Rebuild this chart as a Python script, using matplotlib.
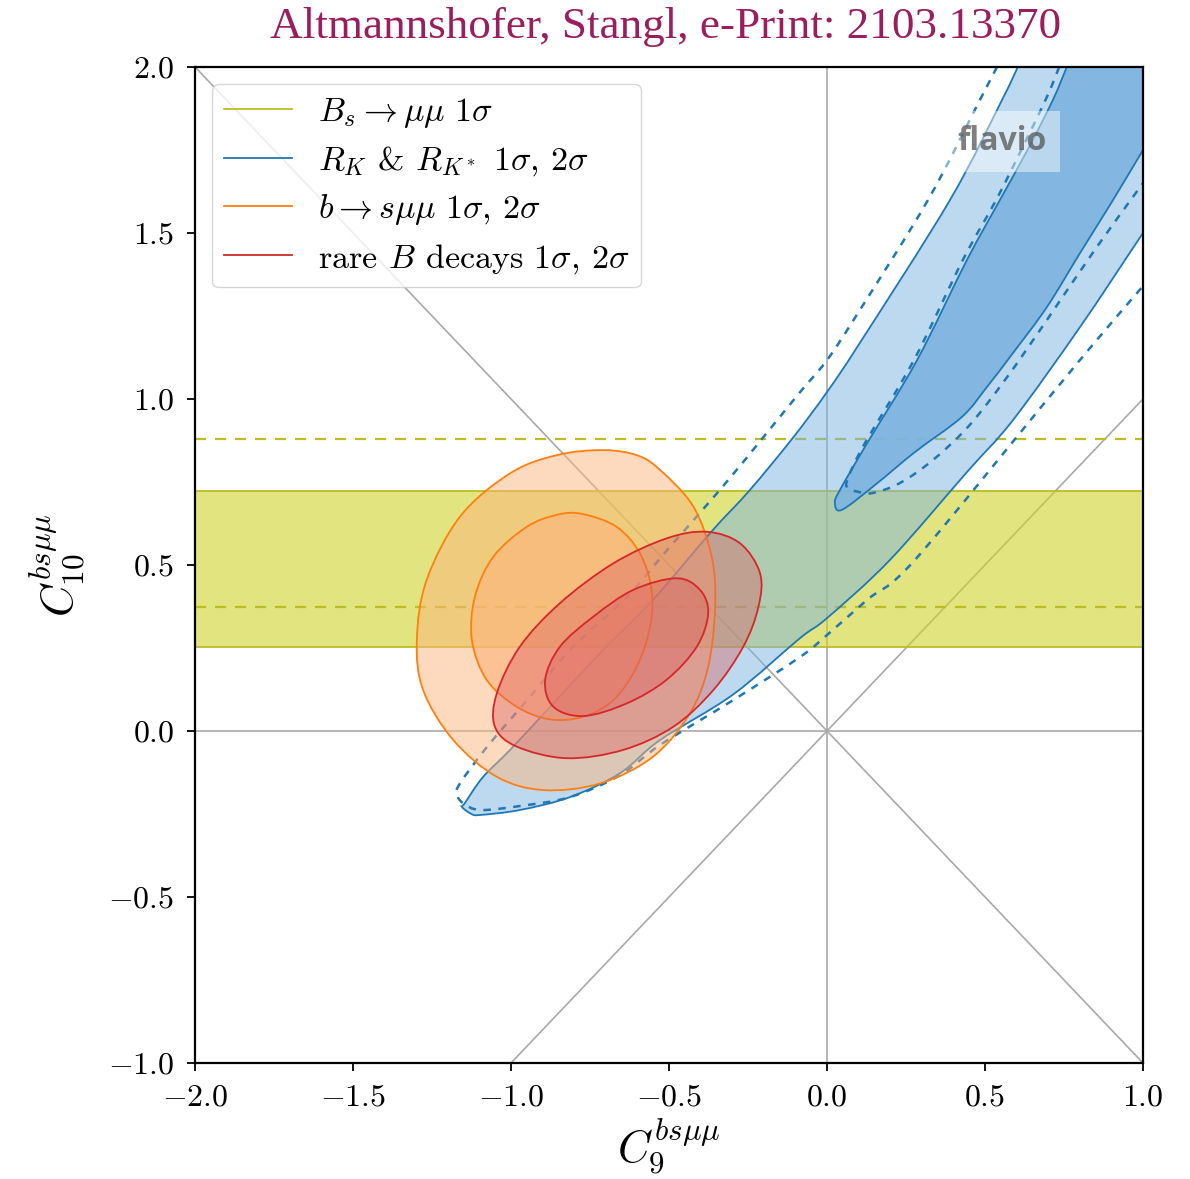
import numpy as np
import matplotlib.pyplot as plt
from matplotlib.path import Path
from matplotlib.patches import PathPatch

plt.rcParams['font.family'] = 'serif'
plt.rcParams['font.serif'] = ['cmr10']
plt.rcParams['mathtext.fontset'] = 'cm'
plt.rcParams['axes.formatter.use_mathtext'] = True

# B_s -> mu mu : 1 sigma band and dashed lines (C10)
bs_band = [0.253, 0.723]
bs_dashed = [0.373, 0.880]

# R_K & R_K* contours (C9, C10); corners close them along the axes
rk_2s_c9 = [0.604, 0.554, 0.389, 0.104, 0.0, -0.108, -0.244, -0.370, -0.551, -0.718, -0.877,
            -1.003, -1.089, -1.146, -1.155, -1.125, -1.098, -0.972, -0.813, -0.655, -0.528,
            -0.297, -0.085, 0.0, 0.199, 0.443, 0.589, 0.801, 1.0]
rk_2s_c10 = [2.0, 1.901, 1.599, 1.169, 1.021, 0.883, 0.726, 0.596, 0.395, 0.235, 0.072,
             -0.057, -0.139, -0.217, -0.229, -0.250, -0.253, -0.238, -0.199, -0.127, -0.027,
             0.110, 0.280, 0.340, 0.515, 0.780, 0.937, 1.217, 1.5]
rk_2s_corner = [(1.0, 2.0)]

rk_1s_c9 = [0.759, 0.715, 0.640, 0.547, 0.443, 0.285, 0.127, 0.041, 0.025, 0.047, 0.152,
            0.278, 0.427, 0.506, 0.589, 0.696, 0.801, 0.905, 1.0]
rk_1s_c10 = [2.0, 1.901, 1.760, 1.599, 1.419, 1.117, 0.867, 0.726, 0.687, 0.666, 0.741,
             0.840, 0.946, 1.036, 1.139, 1.277, 1.440, 1.599, 1.75]
rk_1s_corner = [(1.0, 2.0)]

# dashed R_K contours
rkd_1s_c9 = [0.735, 0.696, 0.620, 0.535, 0.430, 0.275, 0.120, 0.070, 0.063, 0.100, 0.146,
             0.231, 0.335, 0.450, 0.570, 0.696, 0.854, 1.0]
rkd_1s_c10 = [2.0, 1.910, 1.760, 1.599, 1.419, 1.117, 0.867, 0.770, 0.735, 0.720, 0.717,
              0.747, 0.816, 0.920, 1.066, 1.238, 1.458, 1.65]

rkd_2s_c9 = [0.538, 0.484, 0.320, 0.094, 0.0, -0.085, -0.203, -0.339, -0.506, -0.633, -0.804,
             -0.949, -1.076, -1.161, -1.171, -1.152, -1.098, -0.972, -0.813, -0.655, -0.528,
             -0.297, -0.085, 0.0, 0.127, 0.278, 0.696, 0.854, 1.0]
rkd_2s_c10 = [2.0, 1.901, 1.600, 1.253, 1.117, 1.021, 0.883, 0.726, 0.545, 0.404, 0.253,
              0.093, -0.048, -0.157, -0.190, -0.217, -0.238, -0.226, -0.199, -0.133, -0.042,
              0.093, 0.223, 0.289, 0.395, 0.515, 0.997, 1.178, 1.34]

# b -> s mu mu contours
bsmm_2s_c9 = [-0.708, -0.600, -0.528, -0.423, -0.365, -0.354, -0.376, -0.434, -0.550, -0.718,
              -0.898, -1.045, -1.183, -1.278, -1.298, -1.267, -1.161, -1.003, -0.855]
bsmm_2s_c10 = [0.846, 0.830, 0.786, 0.676, 0.525, 0.374, 0.194, 0.053, -0.077, -0.158,
               -0.178, -0.138, -0.027, 0.123, 0.274, 0.455, 0.646, 0.776, 0.831]
bsmm_1s_c9 = [-0.776, -0.666, -0.592, -0.555, -0.560, -0.602, -0.676, -0.771, -0.877, -0.982,
              -1.077, -1.124, -1.114, -1.056, -0.950, -0.855]
bsmm_1s_c10 = [0.654, 0.615, 0.535, 0.425, 0.314, 0.194, 0.093, 0.043, 0.035, 0.073,
               0.154, 0.274, 0.405, 0.525, 0.615, 0.651]

# rare B decays contours
rare_2s_c9 = [-0.381, -0.275, -0.212, -0.217, -0.265, -0.360, -0.486, -0.645, -0.824, -0.982,
              -1.051, -1.045, -0.972, -0.845, -0.676, -0.508]
rare_2s_c10 = [0.600, 0.565, 0.475, 0.374, 0.254, 0.123, 0.013, -0.057, -0.082, -0.047,
               0.013, 0.113, 0.254, 0.385, 0.505, 0.580]
rare_1s_c9 = [-0.476, -0.402, -0.376, -0.412, -0.508, -0.634, -0.771, -0.866, -0.892, -0.845,
              -0.740, -0.613]
rare_1s_c10 = [0.460, 0.425, 0.355, 0.254, 0.154, 0.083, 0.045, 0.073, 0.154, 0.254,
               0.344, 0.425]

labels = [r'$B_s \to \mu\mu\ 1\sigma$',
          r'$R_K$ & $R_{K^*}$ $1\sigma$, $2\sigma$',
          r'$b \to s\mu\mu\ 1\sigma$, $2\sigma$',
          r'rare $B$ decays $1\sigma$, $2\sigma$']

# line colours and (lighter) fill colours
c_bs, c_rk, c_bsmm, c_rare = '#bcbd22', '#1f77b4', '#ff7f0e', '#d62728'
f_bs, f_rk, f_bsmm, f_rare = '#d0d22c', '#7db4e0', '#fcb47d', '#dc6060'


def smooth_path(x, y, closed=False, corners=()):
    # Catmull-Rom through the read vertices, drawn as cubic Bezier segments
    p = np.column_stack([x, y])
    n = len(p)
    if closed:
        t = (np.roll(p, -1, axis=0) - np.roll(p, 1, axis=0)) / 2
        segs = range(n)
    else:
        t = np.empty_like(p)
        t[1:-1] = (p[2:] - p[:-2]) / 2
        t[0] = p[1] - p[0]
        t[-1] = p[-1] - p[-2]
        segs = range(n - 1)
    verts, codes = [p[0]], [Path.MOVETO]
    for i in segs:
        j = (i + 1) % n
        verts += [p[i] + t[i] / 3, p[j] - t[j] / 3, p[j]]
        codes += [Path.CURVE4] * 3
    for c in corners:
        verts.append(c)
        codes.append(Path.LINETO)
    if closed or corners:
        verts.append(p[0])
        codes.append(Path.CLOSEPOLY)
    return Path(verts, codes)


fig = plt.figure(figsize=(11.9, 11.79), dpi=100)
ax = fig.add_axes([0.1639, 0.0984, 0.7966, 0.8448])

# reference lines
ax.axline((0, 0), slope=1, color='darkgray', lw=1.2, zorder=0.5)
ax.axline((0, 0), slope=-1, color='darkgray', lw=1.2, zorder=0.5)
ax.axvline(0, color='darkgray', lw=1.2, zorder=0.5)
ax.axhline(0, color='darkgray', lw=1.2, zorder=0.5)

# Bs -> mumu
ax.axhspan(bs_band[0], bs_band[1], color=f_bs, alpha=0.6, lw=0, zorder=1)
for v in bs_band:
    ax.axhline(v, color=c_bs, lw=1.3, zorder=1.1)
for v in bs_dashed:
    ax.axhline(v, color=c_bs, lw=1.6, ls=(0, (5, 4)), zorder=1.1)


def region(x, y, line, fill, alpha, z, corners=()):
    path = smooth_path(x, y, closed=not corners, corners=corners)
    ax.add_patch(PathPatch(path, facecolor=fill, alpha=alpha, lw=0, zorder=z))
    edge = smooth_path(x, y) if corners else path
    ax.add_patch(PathPatch(edge, facecolor='none', edgecolor=line, lw=1.3, zorder=z + 0.1))


def dashed(x, y, color, z):
    ax.add_patch(PathPatch(smooth_path(x, y), facecolor='none', edgecolor=color,
                           lw=1.8, ls=(0, (3, 3)), zorder=z))


region(rk_2s_c9, rk_2s_c10, c_rk, f_rk, 0.5, 2, corners=rk_2s_corner)
region(rk_1s_c9, rk_1s_c10, c_rk, f_rk, 0.9, 2.2, corners=rk_1s_corner)
dashed(rkd_2s_c9, rkd_2s_c10, c_rk, 2.5)
dashed(rkd_1s_c9, rkd_1s_c10, c_rk, 2.5)

region(bsmm_2s_c9, bsmm_2s_c10, c_bsmm, f_bsmm, 0.5, 3)
region(bsmm_1s_c9, bsmm_1s_c10, c_bsmm, f_bsmm, 0.6, 3.2)
region(rare_2s_c9, rare_2s_c10, c_rare, f_rare, 0.4, 4)
region(rare_1s_c9, rare_1s_c10, c_rare, f_rare, 0.4, 4.2)

handles = [plt.Line2D([], [], color=c, lw=1.3) for c in [c_bs, c_rk, c_bsmm, c_rare]]
ax.legend(handles, labels, loc='upper left', fontsize=24.5, handlelength=2.0,
          handletextpad=0.75, labelspacing=0.42, borderaxespad=0.5, borderpad=0.35,
          framealpha=0.8).set_zorder(10)

ax.text(0.851, 0.925, 'flavio', transform=ax.transAxes, family='Open Sans',
        weight='bold', fontsize=23, color='#555555', alpha=0.75, ha='center', va='center',
        bbox=dict(facecolor='white', alpha=0.45, lw=0, pad=10), zorder=9)

ax.set_xlim(-2, 1)
ax.set_ylim(-1, 2)
ax.set_xticks(np.arange(-2, 1.01, 0.5))
ax.set_yticks(np.arange(-1, 2.01, 0.5))
ax.tick_params(labelsize=23, width=1.3, length=6, pad=9)
for s in ax.spines.values():
    s.set_linewidth(1.6)
ax.set_xlabel(r'$C_9^{bs\mu\mu}$', fontsize=32, labelpad=4)
ax.set_ylabel(r'$C_{10}^{bs\mu\mu}$', fontsize=32, labelpad=14)

fig.text(0.559, 0.977, 'Altmannshofer, Stangl, e-Print: 2103.13370',
         family='Liberation Serif', fontsize=32.5, color='#9b1d5d', ha='center', va='center')

plt.savefig('out.png', dpi=100)
